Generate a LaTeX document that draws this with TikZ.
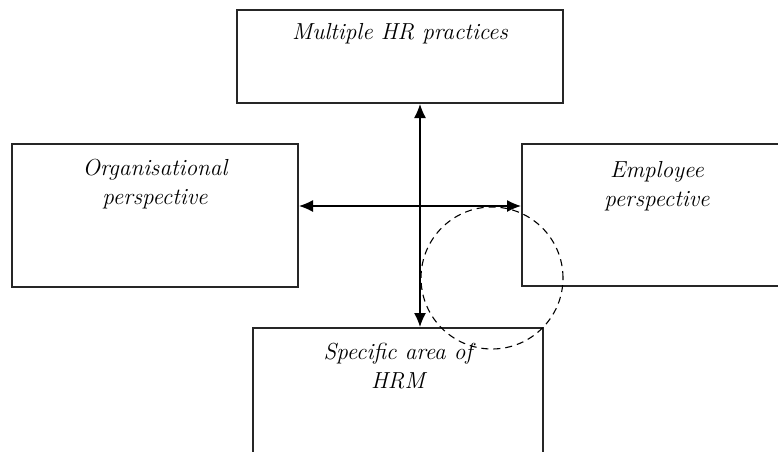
\documentclass[tikz,border=0pt]{standalone}
\usepackage{tikz}
\usetikzlibrary{arrows.meta}

\begin{document}
\begin{tikzpicture}[
  x=0.5pt, y=-0.5pt,
  box/.style={draw=black!85, line width=1pt, inner sep=0pt},
  lbl/.style={font=\fontsize{11.6}{14.5}\selectfont\itshape, align=center,
              anchor=north, inner sep=0pt},
  arr/.style={{Latex[length=7pt,width=6pt]}-{Latex[length=7pt,width=6pt]}, line width=0.6pt},
  ring/.style={draw, circle, dash pattern=on 3.5pt off 2.5pt, line width=0.55pt, inner sep=0pt}
]
\clip (0,0) rectangle (778,451);
\node[box, minimum width=163pt, minimum height=46.5pt,
      label={[lbl, yshift=-7pt]north:Multiple HR practices}] (hr) at (400,56.5) {};
\node[box, minimum width=143pt, minimum height=71.5pt,
      label={[lbl, yshift=-8pt]north:Organisational\\perspective}] (org) at (155,215.5) {};
\node[box, minimum width=135pt, minimum height=71pt,
      label={[lbl, yshift=-9pt]north:Employee\\perspective}] (emp) at (657,215) {};
\node[box, minimum width=145pt, minimum height=76pt,
      label={[lbl, yshift=-8pt]north:Specific area of\\HRM}] (spec) at (398,404) {};
\node[ring, minimum size=71pt] (overlap) at (492,278) {};
% arrow lines
\coordinate (vx) at (420,0);
\coordinate (hy) at (0,206);
\draw[arr] (hr.south -| vx) -- (spec.north -| vx);
\draw[arr] (org.east |- hy) -- (emp.west |- hy);
\end{tikzpicture}
\end{document}
